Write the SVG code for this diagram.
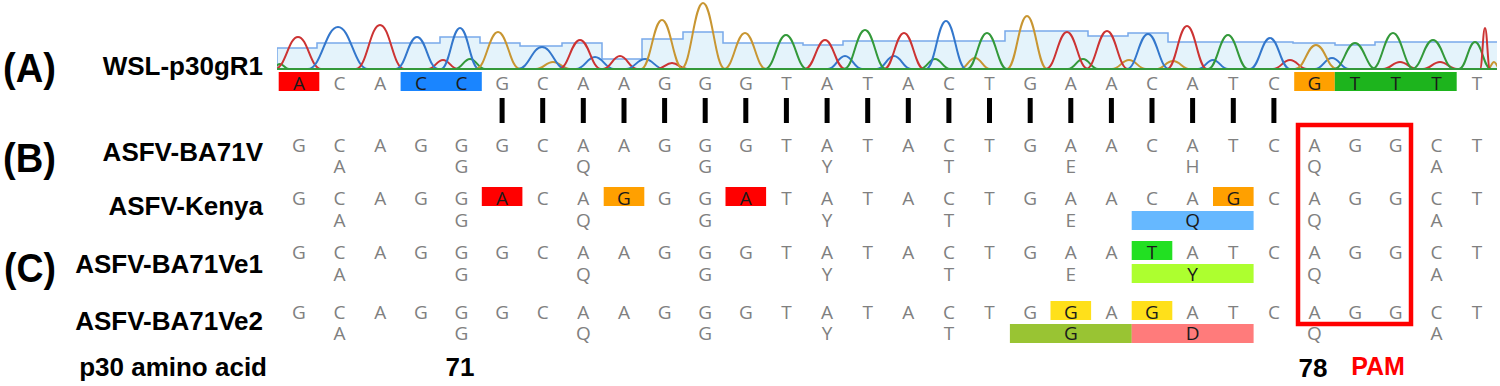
<svg xmlns="http://www.w3.org/2000/svg" xmlns:xlink="http://www.w3.org/1999/xlink" width="1500" height="386" viewBox="0 0 1500 386">
<defs>
<style>
.lab{font-family:"Liberation Sans",Arial,sans-serif;font-weight:bold;fill:#000}
.big{font-size:41px}
.nm{font-size:26px;text-anchor:end}
.b{font-family:"Open Sans","DejaVu Sans",sans-serif;font-size:19px;fill:#808080;text-anchor:middle}
.d{fill:#1a1a1a}
.pk{fill:none;stroke-width:2;stroke-linejoin:round}
.r{stroke:#cc3333}.bl{stroke:#3377cc}.g{stroke:#33993a}.y{stroke:#c89632}
.bar{fill:#000}
</style>
<path id="p" d="M-1,0 C-0.55,0 -0.42,1 0,1 C0.42,1 0.55,0 1,0" vector-effect="non-scaling-stroke"/>
<clipPath id="cc"><rect x="277" y="0" width="1220" height="70"/></clipPath>
</defs>
<rect width="1500" height="386" fill="#fff"/>

<g id="labels" class="lab">
<text class="big" x="3" y="82" textLength="53" lengthAdjust="spacingAndGlyphs">(A)</text>
<text class="big" x="3" y="172" textLength="53" lengthAdjust="spacingAndGlyphs">(B)</text>
<text class="big" x="4" y="282" textLength="52" lengthAdjust="spacingAndGlyphs">(C)</text>
<text class="nm" x="263" y="75">WSL-p30gR1</text>
<text class="nm" x="263" y="161">ASFV-BA71V</text>
<text class="nm" x="263" y="215">ASFV-Kenya</text>
<text class="nm" x="263" y="273">ASFV-BA71Ve1</text>
<text class="nm" x="263" y="330">ASFV-BA71Ve2</text>
<text class="nm" x="267" y="376">p30 amino acid</text>
<text style="font-size:26px;text-anchor:middle" x="460" y="376">71</text>
<text style="font-size:26px;text-anchor:middle" x="1313" y="377">78</text>
<text style="font-size:25px;text-anchor:middle;fill:#ff0000" x="1378" y="375">PAM</text>
</g>

<g id="chromatogram" clip-path="url(#cc)">
<path d="M277,69 V48 H317 V43 H440 V37 H480 V43 H520 V46 H562 V43 H602 V59 H642 V39 H683 V32 H723 V43 H803 V45 H843 V41 H1005 V31 H1088 V36 H1128 V33 H1168 V42 H1293 V43 H1335 V45 H1375 V42 H1497 V69 Z" fill="#e4f3fb" stroke="none"/>
<path d="M277,69 V48 H317 V43 H440 V37 H480 V43 H520 V46 H562 V43 H602 V59 H642 V39 H683 V32 H723 V43 H803 V45 H843 V41 H1005 V31 H1088 V36 H1128 V33 H1168 V42 H1293 V43 H1335 V45 H1375 V42 H1497" fill="none" stroke="#78a9ea" stroke-width="1.5"/>
<g class="pk">
<use href="#p" class="g" transform="translate(280,69) scale(9,-5)"/>
<use href="#p" class="r" transform="translate(443,69) scale(15,-9)"/>
<use href="#p" class="g" transform="translate(470,69) scale(15,-10)"/>
<use href="#p" class="y" transform="translate(553,69) scale(17,-7)"/>
<use href="#p" class="bl" transform="translate(595,69) scale(19,-12)"/>
<use href="#p" class="r" transform="translate(620,69) scale(17,-13)"/>
<use href="#p" class="bl" transform="translate(645,69) scale(19,-10)"/>
<use href="#p" class="r" transform="translate(672,69) scale(15,-6)"/>
<use href="#p" class="bl" transform="translate(845,69) scale(17,-13)"/>
<use href="#p" class="bl" transform="translate(894,69) scale(17,-13)"/>
<use href="#p" class="g" transform="translate(935,69) scale(15,-10)"/>
<use href="#p" class="y" transform="translate(975,69) scale(15,-11)"/>
<use href="#p" class="g" transform="translate(1083,69) scale(15,-10)"/>
<use href="#p" class="y" transform="translate(1129,69) scale(17,-9)"/>
<use href="#p" class="y" transform="translate(1173,69) scale(17,-8)"/>
<use href="#p" class="bl" transform="translate(1213,69) scale(15,-9)"/>
<use href="#p" class="r" transform="translate(1290,69) scale(17,-9)"/>
<use href="#p" class="bl" transform="translate(1332,69) scale(17,-11)"/>
<use href="#p" class="r" transform="translate(1400,69) scale(17,-7)"/>
<use href="#p" class="r" transform="translate(1440,69) scale(17,-7)"/>
<use href="#p" class="y" transform="translate(1494,69) scale(6,-7)"/>
<use href="#p" class="r" transform="translate(298,69) scale(23,-32)"/>
<use href="#p" class="bl" transform="translate(338,69) scale(30,-42)"/>
<use href="#p" class="r" transform="translate(380,69) scale(24,-44)"/>
<use href="#p" class="bl" transform="translate(417,69) scale(21,-32)"/>
<use href="#p" class="bl" transform="translate(460,69) scale(19,-41)"/>
<use href="#p" class="y" transform="translate(498,69) scale(22,-37)"/>
<use href="#p" class="bl" transform="translate(542,69) scale(24,-22)"/>
<use href="#p" class="r" transform="translate(580,69) scale(21,-29)"/>
<use href="#p" class="y" transform="translate(662,69) scale(21,-49)"/>
<use href="#p" class="y" transform="translate(703,69) scale(22,-66)"/>
<use href="#p" class="y" transform="translate(745,69) scale(21,-36)"/>
<use href="#p" class="g" transform="translate(786,69) scale(21,-34)"/>
<use href="#p" class="r" transform="translate(825,69) scale(20,-29)"/>
<use href="#p" class="g" transform="translate(865,69) scale(21,-39)"/>
<use href="#p" class="r" transform="translate(904,69) scale(20,-36)"/>
<use href="#p" class="bl" transform="translate(946,69) scale(20,-48)"/>
<use href="#p" class="g" transform="translate(987,69) scale(20,-36)"/>
<use href="#p" class="y" transform="translate(1027,69) scale(20,-53)"/>
<use href="#p" class="r" transform="translate(1067,69) scale(21,-37)"/>
<use href="#p" class="r" transform="translate(1107,69) scale(21,-38)"/>
<use href="#p" class="bl" transform="translate(1148,69) scale(21,-35)"/>
<use href="#p" class="r" transform="translate(1187,69) scale(20,-43)"/>
<use href="#p" class="g" transform="translate(1228,69) scale(20,-34)"/>
<use href="#p" class="bl" transform="translate(1270,69) scale(20,-31)"/>
<use href="#p" class="y" transform="translate(1316,69) scale(21,-24)"/>
<use href="#p" class="g" transform="translate(1355,69) scale(21,-26)"/>
<use href="#p" class="g" transform="translate(1393,69) scale(21,-36)"/>
<use href="#p" class="g" transform="translate(1433,69) scale(21,-29)"/>
<use href="#p" class="g" transform="translate(1475,69) scale(16,-27)"/>
<use href="#p" class="r" transform="translate(1485,69) scale(5,-41)"/>
</g>
<line x1="277" y1="69" x2="1497" y2="69" stroke="#33993a" stroke-width="2"/>
</g>

<g id="row-wsl">
<rect x="278.7" y="72" width="40.6" height="19" fill="#ff0000"/>
<rect x="400.6" y="72" width="81.2" height="19" fill="#1a85ff"/>
<rect x="1294.2" y="72" width="40.6" height="19" fill="#ffa000"/>
<rect x="1334.8" y="72" width="121.9" height="19" fill="#1db41d"/>
<text class="b d" x="299" y="90">A</text><text class="b" x="339.6" y="90">C</text><text class="b" x="380.2" y="90">A</text><text class="b d" x="420.9" y="90">C</text><text class="b d" x="461.5" y="90">C</text><text class="b" x="502.1" y="90">G</text><text class="b" x="542.7" y="90">C</text><text class="b" x="583.3" y="90">A</text><text class="b" x="624" y="90">A</text><text class="b" x="664.6" y="90">G</text><text class="b" x="705.2" y="90">G</text><text class="b" x="745.8" y="90">G</text><text class="b" x="786.4" y="90">T</text><text class="b" x="827.1" y="90">A</text><text class="b" x="867.7" y="90">T</text><text class="b" x="908.3" y="90">A</text><text class="b" x="948.9" y="90">C</text><text class="b" x="989.5" y="90">T</text><text class="b" x="1030.2" y="90">G</text><text class="b" x="1070.8" y="90">A</text><text class="b" x="1111.4" y="90">A</text><text class="b" x="1152" y="90">C</text><text class="b" x="1192.6" y="90">A</text><text class="b" x="1233.3" y="90">T</text><text class="b" x="1273.9" y="90">C</text><text class="b d" x="1314.5" y="90">G</text><text class="b d" x="1355.1" y="90">T</text><text class="b d" x="1395.7" y="90">T</text><text class="b d" x="1436.4" y="90">T</text><text class="b" x="1477" y="90">T</text>
</g>

<g id="match-bars" class="bar">
<rect x="499.6" y="98" width="5" height="25"/><rect x="540.2" y="98" width="5" height="25"/><rect x="580.8" y="98" width="5" height="25"/><rect x="621.5" y="98" width="5" height="25"/><rect x="662.1" y="98" width="5" height="25"/><rect x="702.7" y="98" width="5" height="25"/><rect x="743.3" y="98" width="5" height="25"/><rect x="783.9" y="98" width="5" height="25"/><rect x="824.6" y="98" width="5" height="25"/><rect x="865.2" y="98" width="5" height="25"/><rect x="905.8" y="98" width="5" height="25"/><rect x="946.4" y="98" width="5" height="25"/><rect x="987" y="98" width="5" height="25"/><rect x="1027.7" y="98" width="5" height="25"/><rect x="1068.3" y="98" width="5" height="25"/><rect x="1108.9" y="98" width="5" height="25"/><rect x="1149.5" y="98" width="5" height="25"/><rect x="1190.1" y="98" width="5" height="25"/><rect x="1230.8" y="98" width="5" height="25"/><rect x="1271.4" y="98" width="5" height="25"/>
</g>

<g id="row-ba71v">
<text class="b" x="299" y="152">G</text><text class="b" x="339.6" y="152">C</text><text class="b" x="380.2" y="152">A</text><text class="b" x="420.9" y="152">G</text><text class="b" x="461.5" y="152">G</text><text class="b" x="502.1" y="152">G</text><text class="b" x="542.7" y="152">C</text><text class="b" x="583.3" y="152">A</text><text class="b" x="624" y="152">A</text><text class="b" x="664.6" y="152">G</text><text class="b" x="705.2" y="152">G</text><text class="b" x="745.8" y="152">G</text><text class="b" x="786.4" y="152">T</text><text class="b" x="827.1" y="152">A</text><text class="b" x="867.7" y="152">T</text><text class="b" x="908.3" y="152">A</text><text class="b" x="948.9" y="152">C</text><text class="b" x="989.5" y="152">T</text><text class="b" x="1030.2" y="152">G</text><text class="b" x="1070.8" y="152">A</text><text class="b" x="1111.4" y="152">A</text><text class="b" x="1152" y="152">C</text><text class="b" x="1192.6" y="152">A</text><text class="b" x="1233.3" y="152">T</text><text class="b" x="1273.9" y="152">C</text><text class="b" x="1314.5" y="152">A</text><text class="b" x="1355.1" y="152">G</text><text class="b" x="1395.7" y="152">G</text><text class="b" x="1436.4" y="152">C</text><text class="b" x="1477" y="152">T</text>
<text class="b" x="339.6" y="173">A</text><text class="b" x="461.5" y="173">G</text><text class="b" x="583.3" y="173">Q</text><text class="b" x="705.2" y="173">G</text><text class="b" x="827.1" y="173">Y</text><text class="b" x="948.9" y="173">T</text><text class="b" x="1070.8" y="173">E</text><text class="b" x="1192.6" y="173">H</text><text class="b" x="1314.5" y="173">Q</text><text class="b" x="1436.4" y="173">A</text>
</g>

<g id="row-kenya">
<rect x="481.8" y="187" width="40.6" height="19" fill="#ff0000"/>
<rect x="603.7" y="187" width="40.6" height="19" fill="#ffa000"/>
<rect x="725.5" y="187" width="40.6" height="19" fill="#ff0000"/>
<rect x="1213" y="187" width="40.6" height="19" fill="#ffa000"/>
<rect x="1131.7" y="211" width="121.9" height="19" fill="#66b8ff"/>
<text class="b" x="299" y="205">G</text><text class="b" x="339.6" y="205">C</text><text class="b" x="380.2" y="205">A</text><text class="b" x="420.9" y="205">G</text><text class="b" x="461.5" y="205">G</text><text class="b d" x="502.1" y="205">A</text><text class="b" x="542.7" y="205">C</text><text class="b" x="583.3" y="205">A</text><text class="b d" x="624" y="205">G</text><text class="b" x="664.6" y="205">G</text><text class="b" x="705.2" y="205">G</text><text class="b d" x="745.8" y="205">A</text><text class="b" x="786.4" y="205">T</text><text class="b" x="827.1" y="205">A</text><text class="b" x="867.7" y="205">T</text><text class="b" x="908.3" y="205">A</text><text class="b" x="948.9" y="205">C</text><text class="b" x="989.5" y="205">T</text><text class="b" x="1030.2" y="205">G</text><text class="b" x="1070.8" y="205">A</text><text class="b" x="1111.4" y="205">A</text><text class="b" x="1152" y="205">C</text><text class="b" x="1192.6" y="205">A</text><text class="b d" x="1233.3" y="205">G</text><text class="b" x="1273.9" y="205">C</text><text class="b" x="1314.5" y="205">A</text><text class="b" x="1355.1" y="205">G</text><text class="b" x="1395.7" y="205">G</text><text class="b" x="1436.4" y="205">C</text><text class="b" x="1477" y="205">T</text>
<text class="b" x="339.6" y="227">A</text><text class="b" x="461.5" y="227">G</text><text class="b" x="583.3" y="227">Q</text><text class="b" x="705.2" y="227">G</text><text class="b" x="827.1" y="227">Y</text><text class="b" x="948.9" y="227">T</text><text class="b" x="1070.8" y="227">E</text><text class="b d" x="1192.6" y="227">Q</text><text class="b" x="1314.5" y="227">Q</text><text class="b" x="1436.4" y="227">A</text>
</g>

<g id="row-e1">
<rect x="1131.7" y="241" width="40.6" height="19" fill="#22e022"/>
<rect x="1131.7" y="264" width="121.9" height="19" fill="#adff2f"/>
<text class="b" x="299" y="259">G</text><text class="b" x="339.6" y="259">C</text><text class="b" x="380.2" y="259">A</text><text class="b" x="420.9" y="259">G</text><text class="b" x="461.5" y="259">G</text><text class="b" x="502.1" y="259">G</text><text class="b" x="542.7" y="259">C</text><text class="b" x="583.3" y="259">A</text><text class="b" x="624" y="259">A</text><text class="b" x="664.6" y="259">G</text><text class="b" x="705.2" y="259">G</text><text class="b" x="745.8" y="259">G</text><text class="b" x="786.4" y="259">T</text><text class="b" x="827.1" y="259">A</text><text class="b" x="867.7" y="259">T</text><text class="b" x="908.3" y="259">A</text><text class="b" x="948.9" y="259">C</text><text class="b" x="989.5" y="259">T</text><text class="b" x="1030.2" y="259">G</text><text class="b" x="1070.8" y="259">A</text><text class="b" x="1111.4" y="259">A</text><text class="b d" x="1152" y="259">T</text><text class="b" x="1192.6" y="259">A</text><text class="b" x="1233.3" y="259">T</text><text class="b" x="1273.9" y="259">C</text><text class="b" x="1314.5" y="259">A</text><text class="b" x="1355.1" y="259">G</text><text class="b" x="1395.7" y="259">G</text><text class="b" x="1436.4" y="259">C</text><text class="b" x="1477" y="259">T</text>
<text class="b" x="339.6" y="281">A</text><text class="b" x="461.5" y="281">G</text><text class="b" x="583.3" y="281">Q</text><text class="b" x="705.2" y="281">G</text><text class="b" x="827.1" y="281">Y</text><text class="b" x="948.9" y="281">T</text><text class="b" x="1070.8" y="281">E</text><text class="b d" x="1192.6" y="281">Y</text><text class="b" x="1314.5" y="281">Q</text><text class="b" x="1436.4" y="281">A</text>
</g>

<g id="row-e2">
<rect x="1050.5" y="301" width="40.6" height="19" fill="#ffe01a"/>
<rect x="1131.7" y="301" width="40.6" height="19" fill="#ffe01a"/>
<rect x="1009.9" y="324" width="121.9" height="19" fill="#99c433"/>
<rect x="1131.7" y="324" width="121.9" height="19" fill="#ff7b7b"/>
<text class="b" x="299" y="319">G</text><text class="b" x="339.6" y="319">C</text><text class="b" x="380.2" y="319">A</text><text class="b" x="420.9" y="319">G</text><text class="b" x="461.5" y="319">G</text><text class="b" x="502.1" y="319">G</text><text class="b" x="542.7" y="319">C</text><text class="b" x="583.3" y="319">A</text><text class="b" x="624" y="319">A</text><text class="b" x="664.6" y="319">G</text><text class="b" x="705.2" y="319">G</text><text class="b" x="745.8" y="319">G</text><text class="b" x="786.4" y="319">T</text><text class="b" x="827.1" y="319">A</text><text class="b" x="867.7" y="319">T</text><text class="b" x="908.3" y="319">A</text><text class="b" x="948.9" y="319">C</text><text class="b" x="989.5" y="319">T</text><text class="b" x="1030.2" y="319">G</text><text class="b d" x="1070.8" y="319">G</text><text class="b" x="1111.4" y="319">A</text><text class="b d" x="1152" y="319">G</text><text class="b" x="1192.6" y="319">A</text><text class="b" x="1233.3" y="319">T</text><text class="b" x="1273.9" y="319">C</text><text class="b" x="1314.5" y="319">A</text><text class="b" x="1355.1" y="319">G</text><text class="b" x="1395.7" y="319">G</text><text class="b" x="1436.4" y="319">C</text><text class="b" x="1477" y="319">T</text>
<text class="b" x="339.6" y="340">A</text><text class="b" x="461.5" y="340">G</text><text class="b" x="583.3" y="340">Q</text><text class="b" x="705.2" y="340">G</text><text class="b" x="827.1" y="340">Y</text><text class="b" x="948.9" y="340">T</text><text class="b d" x="1070.8" y="340">G</text><text class="b d" x="1192.6" y="340">D</text><text class="b" x="1314.5" y="340">Q</text><text class="b" x="1436.4" y="340">A</text>
</g>

<g id="pam-box">
<rect x="1298" y="125" width="113" height="199" fill="none" stroke="#ff0000" stroke-width="4.5"/>
</g>
</svg>
